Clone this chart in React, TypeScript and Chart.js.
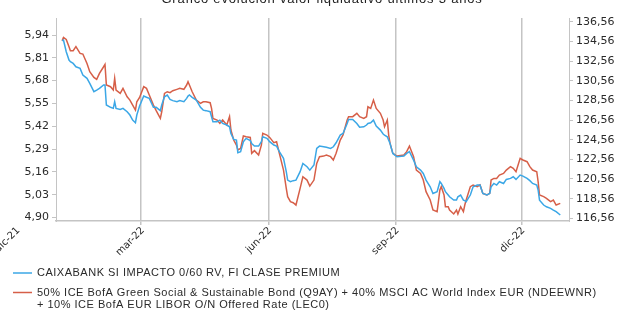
import React, { useEffect, useRef } from "react";
import { Chart, registerables } from "chart.js";

Chart.register(...registerables);

// Day number within 2022 (1 = 1 Jan 2022)
const days = [
  3, 4, 6, 8, 9, 11, 13, 16, 18, 21, 23, 26, 28, 30, 33, 34, 35, 38, 40, 41,
  42, 45, 47, 50, 52, 54, 56, 57, 59, 62, 64, 66, 69, 71, 74, 75, 77, 79, 81, 83,
  86, 88, 91, 93, 94, 95, 97, 100, 103, 105, 107, 110, 111, 112, 115, 117, 119, 122, 124, 125,
  127, 129, 130, 132, 134, 136, 139, 140, 142, 145, 147, 148, 151, 153, 156, 158, 160, 163, 165, 166,
  168, 170, 172, 175, 177, 180, 182, 185, 187, 189, 192, 194, 197, 199, 201, 204, 206, 209, 210, 213,
  216, 218, 221, 223, 224, 226, 228, 230, 233, 235, 236, 238, 239, 240, 242, 245, 250, 252, 254, 257,
  259, 262, 264, 266, 269, 271, 274, 276, 277, 279, 280, 282, 283, 286, 288, 289, 291, 293, 294, 295,
  298, 300, 303, 305, 307, 310, 312, 313, 315, 317, 319, 322, 324, 327, 329, 331, 334, 336, 339, 341,
  343, 346, 347, 348, 351, 353, 356, 358, 360, 363,
];

// Fund NAV (left axis)
const fundValues = [
  5.908, 5.911, 5.845, 5.797, 5.788, 5.778, 5.759, 5.75, 5.712, 5.693, 5.664, 5.617, 5.626, 5.636, 5.655, 5.655, 5.541, 5.528, 5.522, 5.56,
  5.522, 5.516, 5.522, 5.503, 5.484, 5.455, 5.44, 5.484, 5.535, 5.592, 5.585, 5.579, 5.528, 5.528, 5.509, 5.541, 5.588, 5.598, 5.573, 5.566,
  5.56, 5.566, 5.56, 5.579, 5.592, 5.598, 5.585, 5.569, 5.528, 5.512, 5.509, 5.503, 5.474, 5.446, 5.446, 5.455, 5.436, 5.427, 5.417, 5.379,
  5.345, 5.341, 5.269, 5.275, 5.332, 5.351, 5.338, 5.322, 5.307, 5.307, 5.332, 5.36, 5.351, 5.332, 5.313, 5.307, 5.275, 5.237, 5.161, 5.113,
  5.104, 5.11, 5.113, 5.161, 5.208, 5.189, 5.17, 5.199, 5.294, 5.307, 5.303, 5.3, 5.294, 5.303, 5.326, 5.37, 5.379, 5.436, 5.459, 5.459,
  5.436, 5.414, 5.417, 5.427, 5.436, 5.44, 5.455, 5.421, 5.398, 5.376, 5.37, 5.36, 5.341, 5.322, 5.265, 5.246, 5.25, 5.265, 5.275, 5.227,
  5.189, 5.17, 5.151, 5.113, 5.075, 5.037, 5.047, 5.104, 5.094, 5.066, 5.047, 5.028, 5.018, 4.999, 4.999, 5.018, 5.028, 4.999, 4.996, 4.99,
  5.028, 5.075, 5.085, 5.085, 5.037, 5.028, 5.037, 5.075, 5.094, 5.085, 5.104, 5.094, 5.117, 5.123, 5.132, 5.117, 5.142, 5.136, 5.123, 5.11,
  5.094, 5.085, 5.056, 4.999, 4.971, 4.961, 4.952, 4.942, 4.933, 4.914,
];

// Benchmark index (right axis)
const benchValues = [
  134.63, 134.97, 134.76, 134.02, 133.61, 133.61, 134.02, 133.34, 133.27, 132.32, 131.47, 130.9, 130.69, 131.3, 131.98, 132.22, 130.12, 129.95, 129.61, 130.8,
  129.61, 129.27, 129.78, 128.93, 128.59, 128.08, 127.57, 128.42, 128.86, 129.95, 129.78, 129.1, 128.08, 127.51, 126.73, 127.4, 129.27, 129.44, 129.34, 129.54,
  129.68, 129.78, 129.68, 130.12, 130.46, 130.12, 129.44, 128.59, 128.25, 128.42, 128.42, 128.32, 127.74, 126.73, 126.56, 126.22, 126.56, 126.05, 126.9, 125.54,
  124.52, 124.01, 123.51, 123.67, 124.93, 124.86, 124.79, 123.17, 123.44, 123.0, 124.01, 125.2, 125.03, 124.79, 124.25, 124.35, 123.17, 121.47, 119.61, 118.76,
  118.25, 118.15, 117.91, 119.61, 120.79, 120.45, 119.84, 120.45, 122.15, 122.83, 122.89, 123.0, 122.83, 122.49, 123.17, 124.52, 125.03, 126.56, 126.9, 126.9,
  127.24, 126.9, 126.73, 126.9, 127.91, 127.74, 128.59, 127.74, 127.24, 126.56, 125.88, 126.56, 125.03, 124.18, 123.17, 122.89, 123.0, 123.34, 123.91, 122.83,
  121.47, 121.13, 120.45, 119.27, 118.42, 117.4, 117.23, 119.44, 119.78, 118.93, 117.74, 117.74, 117.4, 117.0, 117.4, 117.0, 117.74, 117.23, 117.91, 118.42,
  119.78, 119.95, 119.78, 119.95, 119.1, 118.93, 119.1, 120.45, 120.62, 120.62, 120.96, 121.13, 121.47, 121.81, 121.64, 121.3, 122.66, 122.49, 122.32, 121.81,
  121.47, 121.3, 120.28, 118.93, 118.76, 118.59, 118.25, 118.42, 117.91, 118.08,
];

const leftTicks = [4.9, 5.03, 5.16, 5.29, 5.42, 5.55, 5.68, 5.81, 5.94];
const rightTicks = [116.56, 118.56, 120.56, 122.56, 124.56, 126.56, 128.56, 130.56, 132.56, 134.56, 136.56];
const xTickDays = [-30, 60, 152, 244, 335];
const xTickLabels = ["dic-21", "mar-22", "jun-22", "sep-22", "dic-22"];
const gridDays = [60, 152, 244, 335];

const chartTitle = "Gráfico evolución valor liquidativo últimos 3 años";
const fundLabel = "CAIXABANK SI IMPACTO 0/60 RV, FI CLASE PREMIUM";
const benchLabelLines = [
  "50% ICE BofA Green Social & Sustainable Bond (Q9AY) + 40% MSCI AC World Index EUR (NDEEWNR)",
  "+ 10% ICE BofA EUR LIBOR O/N Offered Rate (LEC0)",
];

const BLUE = "#3ba7e6";
const RED = "#d65f48";
const TEXT = "#2a2a2a";
const AXIS = "#c4c4c4";

const fmt = (v: number) => v.toFixed(2).replace(".", ",");

const overlayPlugin = {
  id: "overlay",
  afterDraw(chart: any) {
    const ctx = chart.ctx as any;
    const area = chart.chartArea;
    const xs = chart.scales.x;
    ctx.save();
    // title (partly cut at the top)
    ctx.font = '13px "Liberation Sans", Arial, sans-serif';
    ctx.letterSpacing = "0.8px";
    ctx.fillStyle = "#222";
    ctx.textAlign = "center";
    ctx.textBaseline = "alphabetic";
    ctx.fillText(chartTitle, 322, 3);
    ctx.letterSpacing = "0px";

    // x tick labels, rotated
    ctx.font = '10px "DejaVu Sans", sans-serif';
    ctx.fillStyle = TEXT;
    xTickDays.forEach((d, i) => {
      const x = xs.getPixelForValue(d);
      ctx.save();
      ctx.translate(x + 2, area.bottom + 8);
      ctx.rotate(-Math.PI / 4);
      ctx.textAlign = "right";
      ctx.textBaseline = "middle";
      ctx.fillText(xTickLabels[i], 0, 0);
      ctx.restore();
    });

    // legend
    ctx.font = '11px "Liberation Sans", Arial, sans-serif';
    ctx.letterSpacing = "0.5px";
    ctx.textAlign = "left";
    ctx.textBaseline = "middle";
    const items = [
      { color: BLUE, lines: [fundLabel], y: 273 },
      { color: RED, lines: benchLabelLines, y: 292.5 },
    ];
    items.forEach((it) => {
      ctx.strokeStyle = it.color;
      ctx.lineWidth = 1.5;
      ctx.beginPath();
      ctx.moveTo(13, it.y);
      ctx.lineTo(32, it.y);
      ctx.stroke();
      ctx.fillStyle = TEXT;
      it.lines.forEach((ln: string, k: number) => ctx.fillText(ln, 37, it.y + k * 12.5));
    });
    ctx.letterSpacing = "0px";
    ctx.restore();
  },
};

export default function App() {
  const ref = useRef<HTMLCanvasElement | null>(null);

  useEffect(() => {
    if (!ref.current) return;
    const chart = new Chart(ref.current, {
      type: "line",
      data: {
        datasets: [
          {
            label: fundLabel,
            data: days.map((d, i) => ({ x: d, y: fundValues[i] })),
            borderColor: BLUE,
            borderWidth: 1.5,
            yAxisID: "yL",
            pointRadius: 0,
            tension: 0,
          },
          {
            label: benchLabelLines.join(" "),
            data: days.map((d, i) => ({ x: d, y: benchValues[i] })),
            borderColor: RED,
            borderWidth: 1.5,
            yAxisID: "yR",
            pointRadius: 0,
            tension: 0,
          },
        ],
      },
      options: {
        animation: false,
        responsive: false,
        devicePixelRatio: 1,
        layout: { padding: { top: 18, left: 0, right: 0, bottom: 0 } },
        plugins: {
          legend: { display: false },
          title: { display: false },
          tooltip: { enabled: false },
        },
        scales: {
          x: {
            type: "linear",
            min: -1.4,
            max: 369.3,
            afterBuildTicks: (s: any) => {
              s.ticks = gridDays.map((v) => ({ value: v }));
            },
            afterFit: (s: any) => {
              s.height = 95;
            },
            ticks: { display: false },
            grid: { color: AXIS, lineWidth: 1.5, tickLength: 4, drawTicks: true },
            border: { color: AXIS, width: 1.5 },
          },
          yL: {
            position: "left",
            min: 4.88,
            max: 6.037,
            afterBuildTicks: (s: any) => {
              s.ticks = leftTicks.map((v) => ({ value: v }));
            },
            afterFit: (s: any) => {
              s.width = 56;
            },
            ticks: {
              callback: (v: any) => fmt(Number(v)),
              font: { family: "DejaVu Sans", size: 11 },
              color: TEXT,
              padding: 3,
            },
            grid: { drawOnChartArea: false, tickLength: 4, color: AXIS },
            border: { color: AXIS },
          },
          yR: {
            position: "right",
            min: 116.285,
            max: 136.94,
            afterBuildTicks: (s: any) => {
              s.ticks = rightTicks.map((v) => ({ value: v }));
            },
            afterFit: (s: any) => {
              s.width = 49;
            },
            ticks: {
              callback: (v: any) => fmt(Number(v)),
              font: { family: "DejaVu Sans", size: 11 },
              color: TEXT,
              padding: 3,
            },
            grid: { drawOnChartArea: false, tickLength: 4, color: AXIS },
            border: { color: AXIS },
          },
        },
      },
      plugins: [overlayPlugin],
    });
    return () => chart.destroy();
  }, []);

  return (
    <div style={{ position: "absolute", left: 0, top: 0, width: 618, height: 316, background: "#fff" }}>
      <canvas ref={ref} width={618} height={316} style={{ width: 618, height: 316, display: "block" }} />
    </div>
  );
}
